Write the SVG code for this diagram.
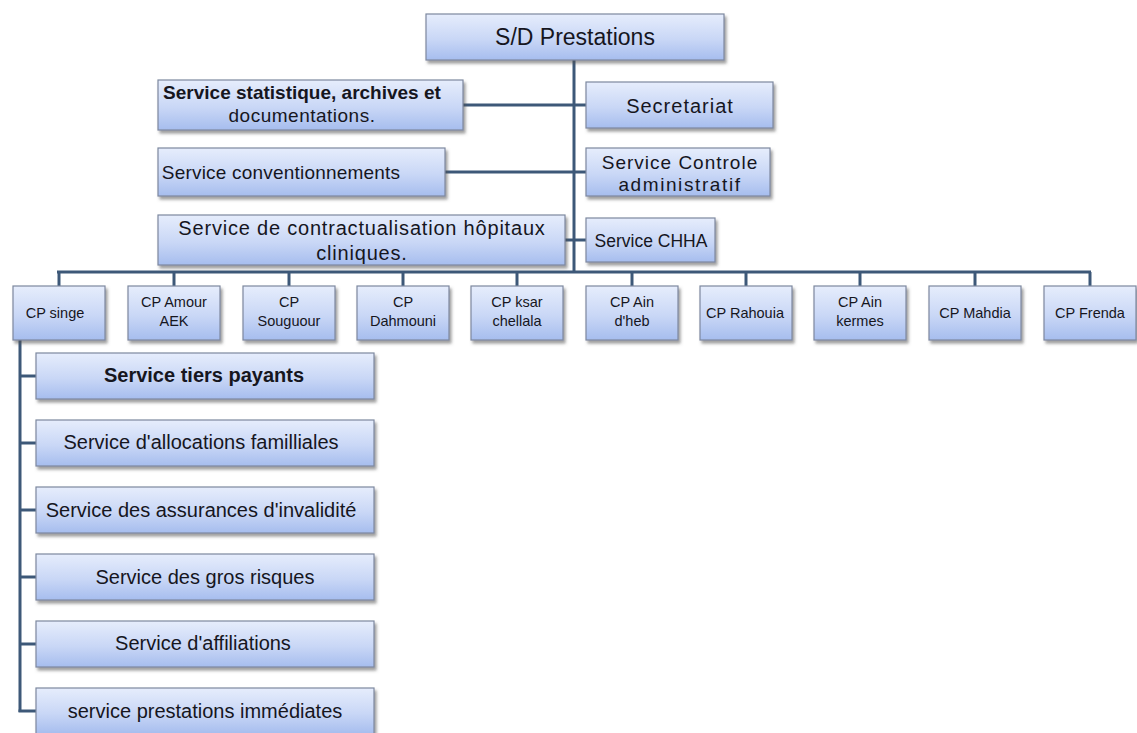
<svg xmlns="http://www.w3.org/2000/svg" width="1137" height="733" viewBox="0 0 1137 733">
  <defs>
    <linearGradient id="boxFill" x1="0" y1="0" x2="0" y2="1">
      <stop offset="0" stop-color="#e6edfc"/>
      <stop offset="0.55" stop-color="#c9d7f6"/>
      <stop offset="1" stop-color="#a6bdee"/>
    </linearGradient>
    <filter id="shadow" x="-5%" y="-10%" width="115%" height="140%">
      <feDropShadow dx="2" dy="3" stdDeviation="1.6" flood-color="#505050" flood-opacity="0.55"/>
    </filter>
  </defs>
  <style>
    .box { fill: url(#boxFill); stroke: #7d889f; stroke-width: 1.2; filter: url(#shadow); }
    .lbl { font-family: "Liberation Sans", Arial, sans-serif; fill: #16161e; text-anchor: middle; }
    .big { font-size: 23px; }
    .mid { font-size: 19px; }
    .svc { font-size: 20px; }
    .sm { font-size: 14.5px; }
    .conn { stroke: #3d5878; stroke-width: 3; fill: none; }
  </style>
  <rect width="1137" height="733" fill="#ffffff"/>

  <!-- connectors -->
  <g id="connectors" class="conn">
    <line x1="574" y1="60" x2="574" y2="272"/>
    <line x1="463" y1="105" x2="586" y2="105"/>
    <line x1="445" y1="172" x2="586" y2="172"/>
    <line x1="565" y1="240" x2="586" y2="240"/>
    <!-- bus to CP nodes -->
    <line x1="57" y1="272" x2="1091" y2="272"/>
    <line x1="59" y1="272" x2="59" y2="286"/>
    <line x1="174" y1="272" x2="174" y2="286"/>
    <line x1="289" y1="272" x2="289" y2="286"/>
    <line x1="403" y1="272" x2="403" y2="286"/>
    <line x1="517" y1="272" x2="517" y2="286"/>
    <line x1="632" y1="272" x2="632" y2="286"/>
    <line x1="746" y1="272" x2="746" y2="286"/>
    <line x1="860" y1="272" x2="860" y2="286"/>
    <line x1="975" y1="272" x2="975" y2="286"/>
    <line x1="1090" y1="272" x2="1090" y2="286"/>
    <!-- CP singe branch -->
    <line x1="20" y1="340" x2="20" y2="712"/>
    <line x1="20" y1="376" x2="36" y2="376"/>
    <line x1="20" y1="443" x2="36" y2="443"/>
    <line x1="20" y1="510" x2="36" y2="510"/>
    <line x1="20" y1="577" x2="36" y2="577"/>
    <line x1="20" y1="644" x2="36" y2="644"/>
    <line x1="18.5" y1="711" x2="36" y2="711"/>
  </g>

  <!-- top -->
  <g id="sd-prestations">
    <rect class="box" x="426" y="14" width="298" height="46"/>
    <text class="lbl big" x="575" y="45">S/D Prestations</text>
  </g>

  <!-- left services -->
  <g id="svc-statistique">
    <rect class="box" x="158" y="80" width="305" height="50"/>
    <text class="lbl mid" x="302" y="99" font-weight="bold">Service statistique, archives et</text>
    <text class="lbl mid" x="302" y="122" letter-spacing="0.5">documentations.</text>
  </g>
  <g id="svc-conventionnements">
    <rect class="box" x="158" y="148" width="287" height="48"/>
    <text class="lbl mid" x="281" y="179" letter-spacing="0.2">Service conventionnements</text>
  </g>
  <g id="svc-contractualisation">
    <rect class="box" x="158" y="215" width="407" height="50"/>
    <text class="lbl svc" x="362" y="235" letter-spacing="0.8">Service de contractualisation hôpitaux</text>
    <text class="lbl svc" x="362" y="260" letter-spacing="0.8">cliniques.</text>
  </g>

  <!-- right services -->
  <g id="secretariat">
    <rect class="box" x="586" y="82" width="187" height="46"/>
    <text class="lbl svc" x="680" y="113" letter-spacing="1">Secretariat</text>
  </g>
  <g id="svc-controle">
    <rect class="box" x="586" y="148" width="184" height="48"/>
    <text class="lbl mid" x="680" y="169" letter-spacing="1">Service Controle</text>
    <text class="lbl mid" x="680" y="191" letter-spacing="1.6">administratif</text>
  </g>
  <g id="svc-chha">
    <rect class="box" x="586" y="218" width="129" height="44"/>
    <text class="lbl" x="651" y="247" font-size="17.5">Service CHHA</text>
  </g>

  <!-- CP nodes -->
  <g id="cp-singe">
    <rect class="box" x="13" y="286" width="92" height="54"/>
    <text class="lbl sm" x="55" y="318">CP singe</text>
  </g>
  <g id="cp-amour">
    <rect class="box" x="128" y="286" width="92" height="54"/>
    <text class="lbl sm" x="174" y="307">CP Amour</text>
    <text class="lbl sm" x="174" y="326">AEK</text>
  </g>
  <g id="cp-souguour">
    <rect class="box" x="243" y="286" width="92" height="54"/>
    <text class="lbl sm" x="289" y="307">CP</text>
    <text class="lbl sm" x="289" y="326">Souguour</text>
  </g>
  <g id="cp-dahmouni">
    <rect class="box" x="357" y="286" width="92" height="54"/>
    <text class="lbl sm" x="403" y="307">CP</text>
    <text class="lbl sm" x="403" y="326">Dahmouni</text>
  </g>
  <g id="cp-ksar">
    <rect class="box" x="471" y="286" width="92" height="54"/>
    <text class="lbl sm" x="517" y="307">CP ksar</text>
    <text class="lbl sm" x="517" y="326">chellala</text>
  </g>
  <g id="cp-ain-dheb">
    <rect class="box" x="586" y="286" width="92" height="54"/>
    <text class="lbl sm" x="632" y="307">CP Ain</text>
    <text class="lbl sm" x="632" y="326">d'heb</text>
  </g>
  <g id="cp-rahouia">
    <rect class="box" x="700" y="286" width="92" height="54"/>
    <text class="lbl sm" x="745" y="318">CP Rahouia</text>
  </g>
  <g id="cp-ain-kermes">
    <rect class="box" x="814" y="286" width="92" height="54"/>
    <text class="lbl sm" x="860" y="307">CP Ain</text>
    <text class="lbl sm" x="860" y="326">kermes</text>
  </g>
  <g id="cp-mahdia">
    <rect class="box" x="929" y="286" width="92" height="54"/>
    <text class="lbl sm" x="975" y="318">CP Mahdia</text>
  </g>
  <g id="cp-frenda">
    <rect class="box" x="1044" y="286" width="92" height="54"/>
    <text class="lbl sm" x="1090" y="318">CP Frenda</text>
  </g>

  <!-- CP singe services -->
  <g id="svc-tiers-payants">
    <rect class="box" x="36" y="353" width="338" height="46"/>
    <text class="lbl svc" x="204" y="382" font-weight="bold">Service tiers payants</text>
  </g>
  <g id="svc-allocations">
    <rect class="box" x="36" y="420" width="338" height="46"/>
    <text class="lbl svc" x="201" y="449">Service d'allocations familliales</text>
  </g>
  <g id="svc-invalidite">
    <rect class="box" x="36" y="487" width="338" height="46"/>
    <text class="lbl svc" x="201" y="517">Service des assurances d'invalidité</text>
  </g>
  <g id="svc-gros-risques">
    <rect class="box" x="36" y="554" width="338" height="46"/>
    <text class="lbl svc" x="205" y="584">Service des gros risques</text>
  </g>
  <g id="svc-affiliations">
    <rect class="box" x="36" y="621" width="338" height="46"/>
    <text class="lbl svc" x="203" y="650">Service d'affiliations</text>
  </g>
  <g id="svc-prestations-immediates">
    <rect class="box" x="36" y="688" width="338" height="46"/>
    <text class="lbl svc" x="205" y="718">service prestations immédiates</text>
  </g>
</svg>
